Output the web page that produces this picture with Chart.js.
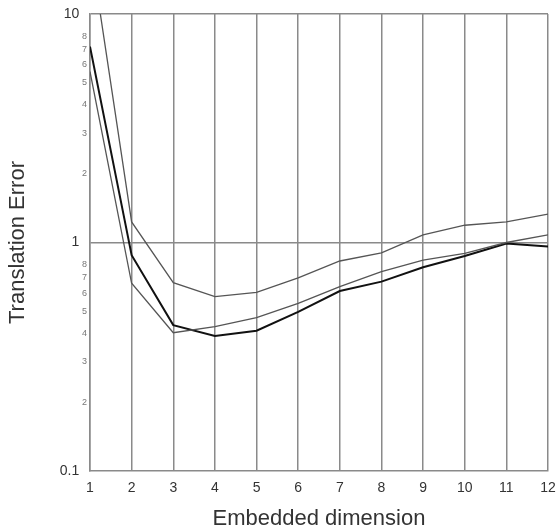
<!DOCTYPE html>
<html>
<head>
<meta charset="utf-8">
<script src="https://cdn.jsdelivr.net/npm/chart.js@4/dist/chart.umd.min.js"></script>
<style>
  html, body { margin: 0; padding: 0; background: #fff; }
  #wrap { width: 558px; height: 532px; }
</style>
</head>
<body>
<div id="wrap"><canvas id="myChart" width="558" height="532"></canvas></div>
<script>
const dims = [1, 2, 3, 4, 5, 6, 7, 8, 9, 10, 11, 12];

const upperSeries = [20, 1.23, 0.667, 0.58, 0.605, 0.70, 0.83, 0.90, 1.08, 1.19, 1.23, 1.33];
const middleSeries = [5.6, 0.663, 0.403, 0.428, 0.469, 0.542, 0.641, 0.745, 0.838, 0.897, 1.0, 1.08];
const blackSeries = [7.2, 0.88, 0.435, 0.39, 0.411, 0.497, 0.613, 0.674, 0.779, 0.873, 0.99, 0.96];

const yTickValues = [0.1, 0.2, 0.3, 0.4, 0.5, 0.6, 0.7, 0.8, 1, 2, 3, 4, 5, 6, 7, 8, 10];
const yTickLabels = ["0.1", "2", "3", "4", "5", "6", "7", "8", "1", "2", "3", "4", "5", "6", "7", "8", "10"];
const majorValues = [0.1, 1, 10];

const FONT = "Liberation Sans, Arial, sans-serif";
const toPoints = (vals) => dims.map((d, i) => ({ x: d, y: vals[i] }));
const isMajor = (v) => majorValues.some((m) => Math.abs(m - v) < 1e-9);

const data = {
    datasets: [
        {
            label: "upper",
            data: toPoints(upperSeries),
            borderColor: "#555",
            borderWidth: 1.3,
            pointRadius: 0,
            tension: 0,
        },
        {
            label: "middle",
            data: toPoints(middleSeries),
            borderColor: "#555",
            borderWidth: 1.3,
            pointRadius: 0,
            tension: 0,
        },
        {
            label: "black",
            data: toPoints(blackSeries),
            borderColor: "#111",
            borderWidth: 2,
            pointRadius: 0,
            tension: 0,
        },
    ],
};

const config = {
    type: "line",
    data: data,
    options: {
        responsive: false,
        animation: false,
        layout: { padding: { top: 14, right: 0, left: 0, bottom: 0 } },
        plugins: {
            legend: { display: false },
            tooltip: { enabled: false },
        },
        scales: {
            x: {
                type: "linear",
                min: 1,
                max: 12,
                afterFit: (s) => { s.height = 61; s.paddingRight = 10; },
                afterBuildTicks: (s) => { s.ticks = dims.map((d) => ({ value: d })); },
                grid: { color: "#8a8a8a", lineWidth: 1.5, drawTicks: false },
                border: { color: "#8a8a8a", width: 1.5 },
                ticks: {
                    padding: 9,
                    maxRotation: 0,
                    color: "#333",
                    font: { family: FONT, size: 14 },
                    callback: (v) => String(v),
                },
                title: {
                    display: true,
                    text: "Embedded dimension",
                    color: "#333",
                    font: { family: FONT, size: 22 },
                    padding: { top: 3, bottom: 0 },
                },
            },
            y: {
                type: "logarithmic",
                min: 0.1,
                max: 10,
                afterFit: (s) => { s.width = 90; },
                afterBuildTicks: (s) => { s.ticks = yTickValues.map((v) => ({ value: v })); },
                grid: {
                    drawTicks: false,
                    lineWidth: 1.5,
                    color: (ctx) => (ctx.tick && (Math.abs(ctx.tick.value - 1) < 1e-9 || Math.abs(ctx.tick.value - 10) < 1e-9)) ? "#8a8a8a" : "rgba(0,0,0,0)",
                },
                border: { color: "#8a8a8a", width: 1.5 },
                ticks: {
                    padding: 3,
                    autoSkip: false,
                    color: (ctx) => isMajor(ctx.tick.value) ? "#333" : "#777",
                    font: (ctx) => ({
                        family: FONT,
                        size: ctx.tick && isMajor(ctx.tick.value) ? 14 : 9,
                    }),
                    callback: (v) => {
                        const lbl = yTickLabels[yTickValues.indexOf(v)];
                        return isMajor(v) ? lbl + "  " : lbl;
                    },
                },
                title: {
                    display: true,
                    text: "Translation Error",
                    color: "#333",
                    font: { family: FONT, size: 22 },
                    padding: { top: 5, bottom: 0 },
                },
            },
        },
    },
};

new Chart(document.getElementById("myChart"), config);
</script>
</body>
</html>
